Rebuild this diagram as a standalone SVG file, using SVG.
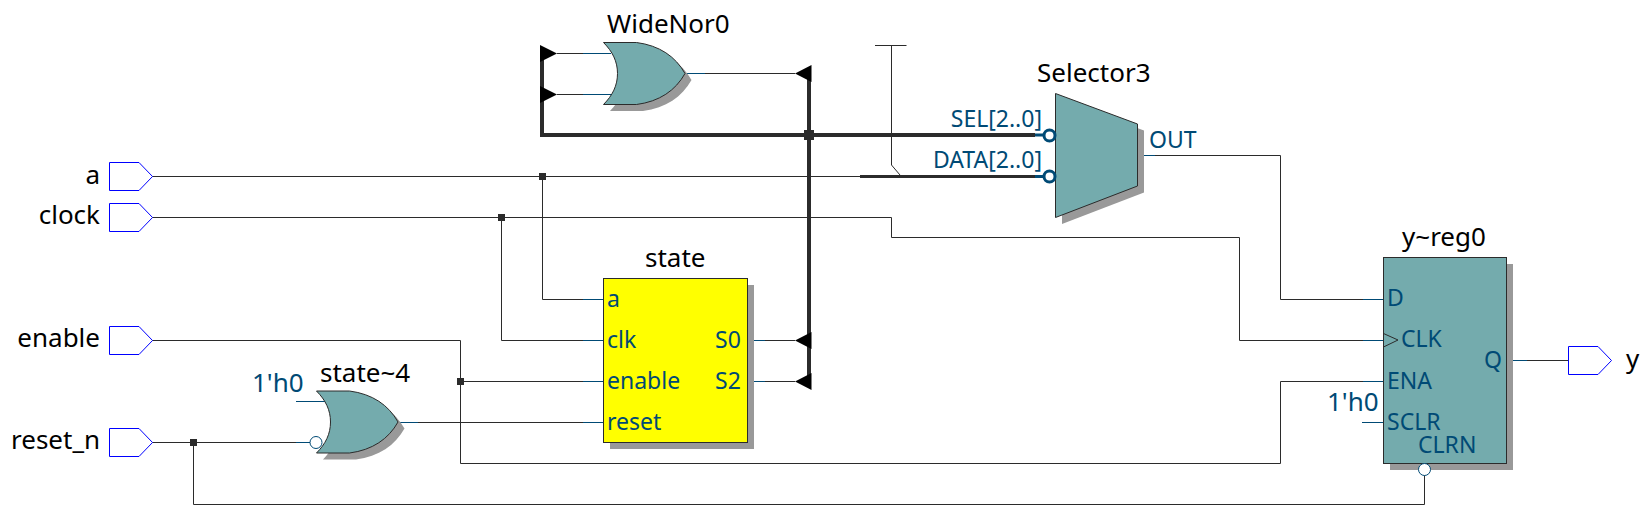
<svg xmlns="http://www.w3.org/2000/svg" width="1647" height="520" viewBox="0 0 1647 520">
<style>
text{font-family:"Noto Sans","Open Sans",sans-serif}
.n{font-size:26px;fill:#000}
.p{font-size:23px;fill:#004a75}
.k{font-size:26px;fill:#004a75}
.w{fill:none;stroke:#2b2b2b;stroke-width:1}
.b{fill:none;stroke:#2b2b2b;stroke-width:4}
.s{fill:none;stroke:#004a75;stroke-width:1}
.t{fill:#000}
.j{fill:#2b2b2b}
.sh{fill:#999}
.f{fill:#74abad;stroke:#2b2b2b;stroke-width:1}
.y{fill:#ff0;stroke:#2b2b2b;stroke-width:1}
.io{fill:#fff;stroke:#00f;stroke-width:1}
.ob{fill:#fff;stroke:#004a75;stroke-width:1}
.ob2{fill:#fff;stroke:#004a75;stroke-width:3}
</style>
<defs>
<path id="or" d="M0 0H33C56 3 72 14 81.500 31C72 48 56 59 33 62H0C9 53 14 43 14 31C14 19 9 9 0 0Z"/>
<path id="io" d="M0 0H29.500L43 14L29.500 28H0Z"/>
<path id="tri" d="M0 0L16.500 -8.500V8.500Z"/>
<path id="trir" d="M0 -8.500L17 0L0 8.500Z"/>
</defs>
<g id="connectors">
<path class="w" d="M152 176.500H860"/>
<path d="M860 176.500H1035" fill="none" stroke="#2b2b2b" stroke-width="3"/>
<path class="w" d="M542.500 176.500V299.500H603.500"/>
<path class="w" d="M152 217.500H891.500V237.500H1239.500V340.500H1383.500"/>
<path class="w" d="M501.500 217.500V340.500H603.500"/>
<path class="w" d="M152 340.500H460.500V463.500H1280.500V381.500H1383.500"/>
<path class="w" d="M460.500 381.500H603.500"/>
<path class="w" d="M398 422.500H603.500"/>
<path class="w" d="M152 442.500H310"/>
<path class="w" d="M193.500 442.500V504.500H1424.500V475"/>
<path class="w" d="M1137 155.500H1280.500V299.500H1383.500"/>
<path class="w" d="M1507 360.500H1568.500"/>
<path class="w" d="M685 73.500H795"/>
<path class="w" d="M557 53.500H611M557 94.500H611"/>
<path class="w" d="M747 340.500H795M747 381.500H795"/>
<path class="b" d="M542 55V135H1035"/>
<path class="b" d="M809 70V380"/>
<path class="w" d="M875 45.500H906.500M891.500 45.500V165L900 175"/>
<path class="s" d="M583 299.500H603.500M583 340.500H603.500M583 381.500H603.500M583 422.500H603.500M747 340.500H765M747 381.500H765M685 73.500H705M583 53.500H611M583 94.500H611M398 422.500H418M296 401.500H325M296 442.500H310M1137 155.500H1155M1363 299.500H1383.500M1363 340.500H1383.500M1363 381.500H1383.500M1362 422.500H1383.500M1507 360.500H1527"/>
<rect class="j" x="539" y="173" width="7" height="7"/>
<rect class="j" x="498" y="214" width="7" height="7"/>
<rect class="j" x="457" y="378" width="7" height="7"/>
<rect class="j" x="190" y="439" width="7" height="7"/>
<rect class="j" x="804" y="130" width="10" height="10"/>
<use href="#trir" class="t" x="540" y="53.500"/>
<use href="#trir" class="t" x="540" y="94.500"/>
<use href="#tri" class="t" x="795" y="73.500"/>
<use href="#tri" class="t" x="795" y="340.500"/>
<use href="#tri" class="t" x="795" y="381.500"/>
<path d="M1035 135H1045M1035 176.500H1045" fill="none" stroke="#004a75" stroke-width="3"/>
</g>
<g id="a"><use href="#io" class="io" x="109.500" y="162.500"/><text class="n" x="100" y="184" text-anchor="end">a</text></g>
<g id="clock"><use href="#io" class="io" x="109.500" y="203.500"/><text class="n" x="100" y="224" text-anchor="end">clock</text></g>
<g id="enable"><use href="#io" class="io" x="109.500" y="326.500"/><text class="n" x="100" y="347" text-anchor="end">enable</text></g>
<g id="reset_n"><use href="#io" class="io" x="109.500" y="428.500"/><text class="n" x="100" y="449" text-anchor="end">reset_n</text></g>
<g id="y"><use href="#io" class="io" x="1568.500" y="346.500"/><text class="n" x="1626" y="368">y</text></g>
<g id="WideNor0">
<use href="#or" class="sh" x="610" y="49"/>
<use href="#or" class="f" x="603.500" y="42.500"/>
<text class="n" x="607" y="33">WideNor0</text>
</g>
<g id="state_4">
<use href="#or" class="sh" x="323" y="397.500"/>
<use href="#or" class="f" x="316.500" y="391"/>
<circle class="ob" cx="316" cy="442.500" r="6"/>
<text class="n" x="320" y="382">state~4</text>
<text class="k" x="252" y="392">1'h0</text>
</g>
<g id="Selector3">
<path class="sh" d="M1062 100L1144 130.500V192.500L1062 224Z"/>
<path class="f" d="M1055.500 93.500L1137.500 124V186L1055.500 217.500Z"/>
<circle class="ob2" cx="1049.500" cy="135.500" r="5.500"/>
<circle class="ob2" cx="1049.500" cy="176.500" r="5.500"/>
<text class="n" x="1037" y="82">Selector3</text>
<text class="p" x="1042" y="127" text-anchor="end">SEL[2..0]</text>
<text class="p" x="1042" y="168" text-anchor="end">DATA[2..0]</text>
<text class="p" x="1149" y="148">OUT</text>
</g>
<g id="state">
<rect class="sh" x="610" y="285" width="144" height="164"/>
<rect class="y" x="603.500" y="278.500" width="144" height="164"/>
<text class="n" x="645" y="267">state</text>
<text class="p" x="607" y="307">a</text>
<text class="p" x="607" y="348">clk</text>
<text class="p" x="607" y="389">enable</text>
<text class="p" x="607" y="430">reset</text>
<text class="p" x="715" y="348">S0</text>
<text class="p" x="715" y="389">S2</text>
</g>
<g id="y_reg0">
<rect class="sh" x="1390" y="264" width="123" height="206"/>
<rect class="f" x="1383.500" y="257.500" width="123" height="206"/>
<path class="w" d="M1383.500 333.500L1398 340L1383.500 347"/>
<circle class="ob" cx="1424.500" cy="469.500" r="6"/>
<text class="n" x="1402" y="246">y~reg0</text>
<text class="p" x="1387" y="306">D</text>
<text class="p" x="1401" y="347">CLK</text>
<text class="p" x="1484" y="368">Q</text>
<text class="p" x="1387" y="389">ENA</text>
<text class="p" x="1387" y="430">SCLR</text>
<text class="p" x="1418" y="453">CLRN</text>
<text class="k" x="1327" y="411">1'h0</text>
</g>
</svg>
